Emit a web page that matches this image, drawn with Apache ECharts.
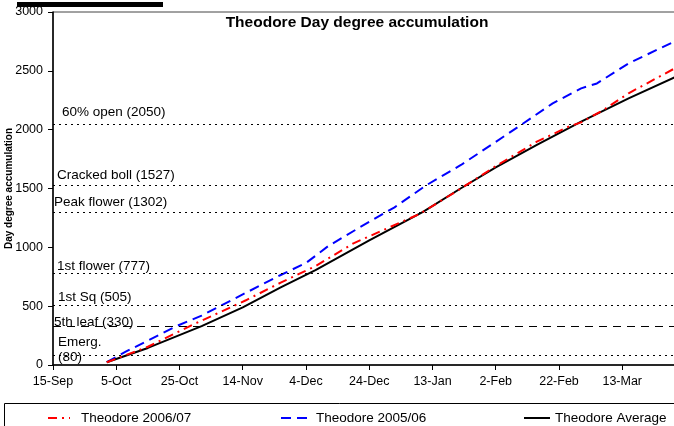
<!DOCTYPE html>
<html>
<head>
<meta charset="utf-8">
<script src="https://cdn.jsdelivr.net/npm/echarts@6.0.0/dist/echarts.min.js"></script>
<style>
  html, body { margin: 0; padding: 0; background: #fff; }
  #chart { width: 674px; height: 426px; }
</style>
</head>
<body>
<div id="chart"></div>
<script>
// days counted from 15-Sep
var tickLabels = ['15-Sep', '5-Oct', '25-Oct', '14-Nov', '4-Dec', '24-Dec', '13-Jan', '2-Feb', '22-Feb', '13-Mar'];

var avgDays = [17, 30, 47, 60, 72, 83, 100, 117, 129, 140, 153, 167, 182, 197];
var avgVals = [23, 145, 330, 490, 660, 807, 1060, 1302, 1502, 1680, 1870, 2068, 2266, 2450];

var s0607Days = [17, 30, 44, 61, 72, 83, 95, 116, 129, 140, 153, 163, 167, 174, 182, 197];
var s0607Vals = [23, 155, 340, 550, 700, 840, 1034, 1285, 1500, 1690, 1898, 2025, 2062, 2167, 2309, 2527];

var s0506Days = [17, 23, 39, 47, 60, 72, 80, 87, 97, 108, 118, 129, 140, 148, 158, 167, 172, 182, 197];
var s0506Vals = [25, 113, 330, 420, 600, 765, 867, 1010, 1170, 1340, 1527, 1700, 1896, 2040, 2224, 2351, 2393, 2563, 2756];

var stageNames = ['60% open (2050)', 'Cracked boll (1527)', 'Peak flower (1302)', '1st flower (777)', '1st Sq (505)', '5th leaf (330)', 'Emerg.\n(80)'];
var stageVals = [2050, 1527, 1302, 777, 505, 330, 80];

function pairs(xs, ys) {
    return xs.map(function (x, i) { return [x, ys[i]]; });
}

var font = 'Arial, "Liberation Sans", sans-serif';

// label nudges for the stage lines [dx, dy]
var stageDist = [[9, 4], [4, 3], [1, 2], [4, 0], [5, 1], [1, -4], [5, -9]];

var stageLines = stageVals.map(function (v, i) {
    return {
        yAxis: v,
        lineStyle: { type: v === 330 ? [8, 6] : [2, 4], color: '#000', width: 1 },
        label: {
            show: true,
            position: 'insideStartTop',
            distance: stageDist[i],
            formatter: stageNames[i],
            color: '#000',
            fontSize: 13.5,
            fontFamily: font,
            lineHeight: 15
        }
    };
});

function legendFor(name, left, w, pad) {
    return {
        data: [name], left: left, top: 406,
        itemWidth: w, itemHeight: 10,
        itemStyle: { opacity: 0 },
        textStyle: { fontSize: 13.5, fontFamily: font, color: '#000', padding: [0, 0, 0, pad] }
    };
}

var chart = echarts.init(document.getElementById('chart'));

chart.setOption({
    animation: false,
    backgroundColor: '#fff',
    title: {
        text: 'Theodore Day degree accumulation',
        left: 352,
        textAlign: 'center',
        top: 10,
        textStyle: { fontSize: 15.5, fontWeight: 'bold', fontFamily: font, color: '#000' }
    },
    grid: {
        left: 53, right: -2, top: 12, bottom: 61,
        containLabel: false,
        outerBoundsMode: 'none',
        show: true, borderColor: '#444', borderWidth: 1
    },
    legend: [
        legendFor('Theodore 2006/07', 42, 22, 6),
        legendFor('Theodore 2005/06', 275, 30, 0),
        legendFor('Theodore Average', 518, 26, 0)
    ],
    xAxis: {
        type: 'value',
        min: 0,
        max: 197,
        interval: 20,
        axisLine: { lineStyle: { color: '#000', width: 1.5 } },
        axisTick: { length: 5, lineStyle: { color: '#000' } },
        splitLine: { show: false },
        axisLabel: {
            margin: 10,
            color: '#000',
            fontSize: 12.5,
            fontFamily: font,
            formatter: function (v) {
                return v % 20 === 0 ? (tickLabels[v / 20] || '') : '';
            }
        }
    },
    yAxis: {
        type: 'value',
        min: 0,
        max: 3000,
        interval: 500,
        name: 'Day degree accumulation',
        nameLocation: 'middle',
        nameGap: 39,
        nameMoveOverlap: false,
        nameTextStyle: { fontSize: 10, fontWeight: 'bold', fontFamily: font, color: '#000' },
        axisLine: { show: true, lineStyle: { color: '#000', width: 1.5 } },
        axisTick: { show: true, length: 5, lineStyle: { color: '#000' } },
        splitLine: { show: false },
        axisLabel: {
            margin: 10, color: '#000', fontSize: 12.5, fontFamily: font,
            formatter: function (v) { return String(v); }
        }
    },
    series: [
        {
            name: 'stages',
            type: 'line',
            data: [],
            silent: true,
            markLine: { symbol: 'none', silent: true, data: stageLines }
        },
        {
            name: 'Theodore 2005/06',
            type: 'line',
            data: pairs(s0506Days, s0506Vals),
            symbol: 'none',
            color: '#0000ff',
            lineStyle: { color: '#0000ff', width: 2, type: [10, 6] },
            z: 3
        },
        {
            name: 'Theodore Average',
            type: 'line',
            data: pairs(avgDays, avgVals),
            symbol: 'none',
            color: '#000',
            lineStyle: { color: '#000', width: 2 },
            z: 4
        },
        {
            name: 'Theodore 2006/07',
            type: 'line',
            data: pairs(s0607Days, s0607Vals),
            symbol: 'none',
            color: '#ff0000',
            lineStyle: { color: '#ff0000', width: 2, type: [9, 5, 2, 5] },
            z: 5
        }
    ],
    graphic: [
        { type: 'rect', shape: { x: 17, y: 2, width: 146, height: 5 }, style: { fill: '#000' } },
        { type: 'rect', shape: { x: 4.5, y: 403.5, width: 720, height: 40 }, style: { fill: 'none', stroke: '#000', lineWidth: 1 } }
    ]
});
</script>
</body>
</html>
